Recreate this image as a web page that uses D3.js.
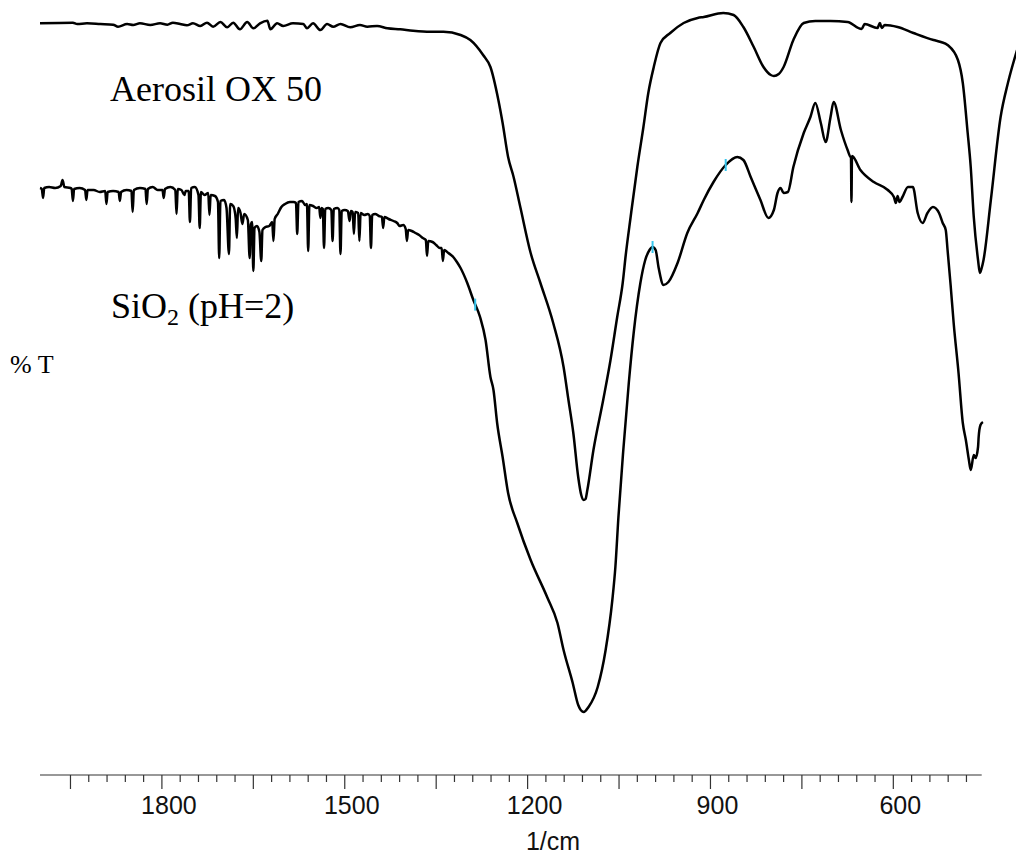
<!DOCTYPE html>
<html>
<head>
<meta charset="utf-8">
<script src="https://cdn.jsdelivr.net/npm/d3@7/dist/d3.min.js"></script>
<style>
    body { margin: 0; background: #fff; }
    svg { display: block; }
    .spectrum { fill: none; stroke: #000; stroke-width: 2.5; stroke-linejoin: round; }
    .peak-mark { stroke: #35c6ee; stroke-width: 2; }
    .axis line { stroke: #333; stroke-width: 1.2; }
    .axis text { font-family: "Liberation Sans", Arial, sans-serif; font-size: 25px; fill: #111; }
    .label { font-family: "Liberation Serif", "Times New Roman", serif; fill: #000; }
</style>
</head>
<body>
<svg id="chart"></svg>
<script>
// wavenumber (1/cm) and %T readings, Aerosil OX 50
const aerosilWn = [2000, 1946, 1939, 1923, 1901, 1880, 1872, 1857, 1847, 1836, 1819, 1803, 1791, 1782, 1770, 1759,
    1749, 1737, 1726, 1716, 1704, 1693, 1683, 1672, 1660, 1650, 1639, 1627, 1622, 1611, 1601, 1585, 1568, 1562,
    1552, 1540, 1529, 1519, 1507, 1491, 1475, 1463, 1447, 1430, 1409, 1388, 1360, 1338, 1310, 1294, 1273, 1261,
    1248, 1241, 1232, 1223, 1212, 1195, 1179, 1158, 1141, 1133, 1125, 1117, 1112, 1108, 1105, 1102, 1092, 1076,
    1064, 1053, 1044, 1039, 1031, 1020, 1010, 1002, 993, 982, 966, 944, 921, 911, 879, 862, 846, 829, 813, 801,
    796, 788, 780, 764, 747, 728, 703, 675, 652, 647, 626, 622, 619, 614, 593, 567, 534, 522, 511, 494, 486, 478,
    473, 468, 461, 458, 455, 452, 440, 424, 412, 397];
const aerosilT = [74.67, 74.73, 74.6, 74.67, 74.6, 74.53, 74.33, 74.6, 74.5, 74.67, 74.5, 74.67, 74.53, 74.73, 74.6, 74.47,
    74.67, 74.4, 74.73, 74.33, 74.8, 74.27, 74.73, 74.07, 74.8, 74.17, 74.67, 74.93, 74.07, 74.67, 74.4, 74.67, 74.6, 74.17,
    74.67, 74.0, 74.6, 74.33, 74.6, 74.27, 74.5, 74.33, 74.4, 74.17, 74.07, 73.93, 73.83, 73.83, 73.5, 73.0, 71.5, 70.3,
    67.0, 64.7, 61.3, 59.3, 56.3, 51.7, 48.7, 44.7, 40.3, 37.0, 33.7, 29.3, 27.5, 27.0, 27.1, 28.0, 32.0, 37.0,
    41.0, 45.3, 48.7, 51.5, 55.3, 60.3, 64.3, 67.7, 70.3, 72.7, 73.7, 74.7, 75.2, 75.3, 75.7, 75.5, 74.3, 72.3, 70.3, 69.5,
    69.4, 69.6, 70.3, 73.0, 74.7, 74.9, 74.9, 74.8, 74.1, 74.6, 74.2, 74.7, 74.2, 74.5, 74.3, 73.7, 73.0, 72.8, 72.5, 71.0, 68.7, 63.7,
    60.3, 55.3, 51.0, 49.7, 50.2, 51.0, 57.0, 65.3, 68.7, 72.0];

// wavenumber (1/cm) and %T readings, SiO2 (pH=2)
const silicaWn = [2000, 1997, 1995, 1993, 1985, 1975, 1966, 1963, 1960, 1950, 1948, 1946, 1944, 1935, 1926, 1924,
    1922, 1912, 1902, 1893, 1891, 1889, 1880, 1871, 1869, 1867, 1858, 1850, 1848, 1846, 1836, 1827, 1825, 1823,
    1815, 1807, 1799, 1797, 1795, 1786, 1778, 1776, 1774, 1768, 1763, 1761, 1756, 1754, 1752, 1746, 1740, 1738,
    1736, 1730, 1724, 1722, 1720, 1713, 1708, 1706, 1704, 1698, 1694, 1690, 1688, 1683, 1679, 1677, 1675, 1671,
    1668, 1665, 1659, 1656, 1654, 1652, 1650, 1648, 1644, 1640, 1637, 1635, 1630, 1624, 1619, 1617, 1615, 1610,
    1604, 1598, 1590, 1584, 1580, 1578, 1576, 1570, 1565, 1562, 1560, 1558, 1552, 1546, 1542, 1540, 1538, 1536,
    1534, 1532, 1527, 1522, 1520, 1518, 1512, 1509, 1507, 1505, 1500, 1495, 1492, 1490, 1487, 1485, 1483, 1478,
    1476, 1474, 1468, 1462, 1459, 1457, 1455, 1450, 1444, 1439, 1437, 1435, 1428, 1420, 1414, 1410, 1404, 1400,
    1398, 1396, 1390, 1384, 1378, 1372, 1367, 1365, 1363, 1356, 1350, 1344, 1341, 1339, 1337, 1330, 1322, 1316,
    1310, 1299, 1289, 1278, 1269, 1261, 1256, 1250, 1241, 1232,
    1217, 1195, 1168, 1151, 1141, 1126, 1117, 1108, 1100, 1085, 1072, 1061, 1056, 1051, 1043, 1034, 1026, 1015,
    1007, 1000, 995, 990, 985, 977, 969, 954, 938, 921, 911, 895, 875, 856, 846, 834, 818, 805, 796, 790, 785, 780,
    773, 764, 747, 736, 728, 719, 711, 703, 698, 686, 675, 670, 669.5, 668.7, 667.8, 654, 632, 609, 599, 596, 593,
    590, 585, 576, 568, 560, 552, 544, 535, 525, 519, 514, 511, 506, 501, 493, 486, 481, 476, 473, 468, 465, 461,
    460, 457, 453];
const silicaT = [58.2, 58.1, 57.2, 58.2, 58.3, 58.2, 58.4, 59.0, 58.3, 58.2, 58.1, 56.9, 58.1, 58.2, 58.0, 57.0,
    58.0, 58.0, 57.8, 57.9, 56.6, 57.8, 57.9, 57.8, 56.9, 57.8, 58.0, 57.9, 55.8, 58.0, 58.2, 58.1, 56.6, 58.1,
    58.3, 58.0, 58.0, 57.2, 58.1, 58.3, 58.0, 55.6, 58.1, 58.0, 57.5, 57.9, 57.9, 54.8, 58.2, 58.3, 57.5, 54.2,
    57.8, 57.5, 57.7, 55.5, 57.5, 57.4, 56.8, 51.2, 56.9, 57.0, 56.2, 51.6, 56.6, 56.4, 55.2, 53.2, 56.2, 55.7,
    54.6, 55.6, 55.0, 51.2, 54.6, 54.8, 49.9, 54.2, 54.4, 53.8, 50.9, 54.0, 54.3, 54.4, 54.8, 52.9, 55.1, 55.6,
    56.3, 56.6, 56.8, 56.8, 56.7, 53.6, 56.8, 56.9, 56.5, 56.6, 51.9, 56.5, 56.4, 56.2, 56.3, 55.2, 56.2, 56.1,
    52.2, 56.1, 56.2, 56.0, 52.9, 56.1, 56.2, 56.0, 51.6, 55.9, 56.0, 55.9, 54.9, 55.9, 55.8, 53.6, 55.8, 55.7,
    52.9, 55.7, 55.5, 55.6, 55.4, 52.2, 55.5, 55.6, 55.4, 55.3, 54.2, 55.3, 55.1, 54.9, 54.7, 54.4, 54.5, 54.1,
    52.9, 54.0, 53.9, 53.7, 53.5, 53.2, 53.0, 51.4, 52.9, 52.8, 52.5, 52.2, 52.2, 50.9, 52.0, 51.7, 51.3, 50.8,
    50.2, 48.7, 47.0, 45.3, 43.0, 39.3, 38.0, 34.7, 31.3, 27.7,
    24.7, 21.0, 17.3, 14.7, 12.0, 8.7, 6.5, 5.8, 6.3, 8.3, 12.0, 17.0, 20.3, 25.3, 32.0, 38.7, 43.7, 48.7,
    51.0, 52.0, 52.3, 52.0, 50.2, 48.5, 48.8, 50.7, 53.7, 55.7, 57.0, 58.8, 60.5, 61.3, 61.0, 59.3, 57.0, 55.2, 56.0, 57.7, 58.2, 57.7,
    57.8, 60.3, 63.7, 65.3, 66.7, 64.7, 62.8, 65.3, 66.8, 64.0, 62.0, 61.3, 61.3, 56.8, 61.4, 60.0, 58.8, 58.0, 57.3, 56.7, 57.4,
    56.8, 57.3, 58.3, 58.3, 55.7, 54.7, 55.7, 56.3, 55.7, 54.7, 54.0, 52.0, 48.5, 44.7, 39.7, 34.7, 33.0, 31.0, 30.0, 31.5, 31.2, 32.3,
    33.3, 34.5, 34.8];

// peak picks marked on the SiO2 trace
const peakWn = [1286, 995, 875];

// axis ticks
const minorTicks = d3.range(1950, 479, -30);
const majorTicks = [1950, 1800, 1650, 1500, 1350, 1200, 1050, 900, 750, 600];
const tickLabels = [1800, 1500, 1200, 900, 600];

class SpectrumPlot {
    constructor(_config) {
        this.config = {
            parentElement: _config.parentElement,
            containerWidth: _config.containerWidth || 1016,
            containerHeight: _config.containerHeight || 857,
            xLabel: _config.xLabel,
            yLabel: _config.yLabel
        };
        this.initVis();
    }

    initVis() {
        let vis = this;

        vis.svg = d3.select(vis.config.parentElement)
            .attr('width', vis.config.containerWidth)
            .attr('height', vis.config.containerHeight);

        // wavenumbers decrease to the right
        vis.xScale = d3.scaleLinear().domain([2000, 455]).range([40, 981.7]);
        vis.yScale = d3.scaleLinear().domain([0, 77]).range([770, 0]);
        vis.axisY = 775;

        vis.line = d3.line()
            .x(d => vis.xScale(d[0]))
            .y(d => vis.yScale(d[1]))
            .curve(d3.curveMonotoneX);
    }

    renderVis() {
        let vis = this;

        const aerosil = aerosilWn.map((w, i) => [w, aerosilT[i]]);
        const silica = silicaWn.map((w, i) => [w, silicaT[i]]);

        vis.svg.append('path')
            .datum(aerosil)
            .attr('class', 'spectrum')
            .attr('d', vis.line);

        vis.svg.append('path')
            .datum(silica)
            .attr('class', 'spectrum')
            .attr('d', vis.line);

        // peak markers, sitting on the trace
        const onTrace = w => {
            let i = silica.findIndex(d => d[0] <= w);
            let a = silica[i - 1], b = silica[i];
            let t = (a[0] - w) / (a[0] - b[0]);
            return a[1] + t * (b[1] - a[1]);
        };
        vis.svg.selectAll('.peak-mark')
            .data(peakWn)
            .join('line')
            .attr('class', 'peak-mark')
            .attr('x1', d => vis.xScale(d))
            .attr('x2', d => vis.xScale(d))
            .attr('y1', d => vis.yScale(onTrace(d)) - 6)
            .attr('y2', d => vis.yScale(onTrace(d)) + 6);

        // bottom axis: minor, major ticks and labels
        const axisG = vis.svg.append('g')
            .attr('class', 'axis')
            .attr('transform', `translate(0,${vis.axisY})`);

        axisG.append('line')
            .attr('x1', vis.xScale(2000))
            .attr('x2', vis.xScale(455))
            .attr('y1', 0).attr('y2', 0);

        axisG.selectAll('.tick')
            .data(minorTicks)
            .join('line')
            .attr('class', 'tick')
            .attr('x1', d => vis.xScale(d))
            .attr('x2', d => vis.xScale(d))
            .attr('y1', 0)
            .attr('y2', d => majorTicks.includes(d) ? 14 : 7);

        axisG.selectAll('text')
            .data(tickLabels)
            .join('text')
            .attr('x', d => vis.xScale(d) + 7)
            .attr('y', 39)
            .attr('text-anchor', 'middle')
            .text(d => d);

        // axis titles
        vis.svg.append('text')
            .attr('x', 553)
            .attr('y', 850)
            .attr('text-anchor', 'middle')
            .style('font-family', '"Liberation Sans", Arial, sans-serif')
            .style('font-size', '25px')
            .style('fill', '#111')
            .text(vis.config.xLabel);

        vis.svg.append('text')
            .attr('class', 'label')
            .attr('x', 10)
            .attr('y', 373)
            .style('font-size', '26px')
            .text(vis.config.yLabel);

        // trace labels
        vis.svg.append('text')
            .attr('class', 'label')
            .attr('x', 110)
            .attr('y', 101)
            .style('font-size', '36px')
            .text('Aerosil OX 50');

        const siLabel = vis.svg.append('text')
            .attr('class', 'label')
            .attr('x', 111)
            .attr('y', 318)
            .style('font-size', '36px');
        siLabel.append('tspan').text('SiO');
        siLabel.append('tspan').attr('dy', 7).style('font-size', '24px').text('2');
        siLabel.append('tspan').attr('dy', -7).text(' (pH=2)');
    }
}

const plot = new SpectrumPlot({
    parentElement: '#chart',
    xLabel: '1/cm',
    yLabel: '% T'
});
plot.renderVis();
</script>
</body>
</html>
